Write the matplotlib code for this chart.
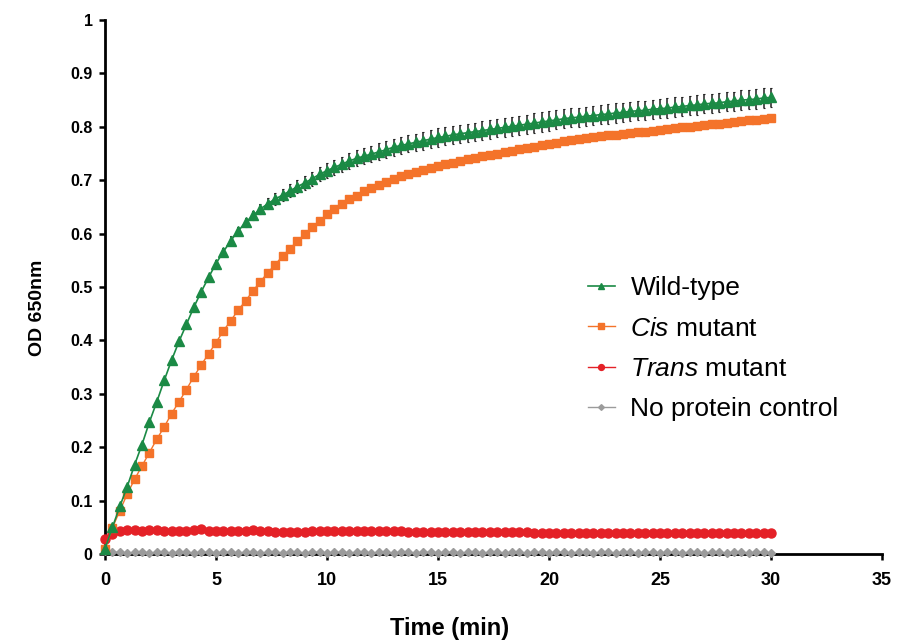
import numpy as np
import matplotlib
matplotlib.use("Agg")
from matplotlib import pyplot as plt
from matplotlib import font_manager

# sampling every 20 s over 30 min
time_min = np.round(np.arange(91) / 3.0, 3)

wild_type = [
    0.010, 0.050, 0.089, 0.126, 0.167, 0.205, 0.247, 0.285, 0.325, 0.363,
    0.398, 0.430, 0.462, 0.491, 0.518, 0.544, 0.566, 0.587, 0.605, 0.621,
    0.634, 0.646, 0.656, 0.665, 0.672, 0.680, 0.688, 0.695, 0.703, 0.711,
    0.718, 0.724, 0.730, 0.736, 0.741, 0.745, 0.749, 0.753, 0.757, 0.762,
    0.765, 0.768, 0.771, 0.774, 0.777, 0.780, 0.782, 0.785, 0.787, 0.789,
    0.791, 0.793, 0.795, 0.797, 0.799, 0.801, 0.803, 0.805, 0.807, 0.809,
    0.811, 0.813, 0.815, 0.817, 0.818, 0.820, 0.821, 0.823, 0.824, 0.826,
    0.827, 0.829, 0.830, 0.831, 0.833, 0.834, 0.835, 0.837, 0.838, 0.840,
    0.841, 0.843, 0.844, 0.845, 0.847, 0.848, 0.850, 0.851, 0.852, 0.854,
    0.855]
wild_type_err = [
    0.001, 0.002, 0.002, 0.003, 0.003, 0.003, 0.004, 0.004, 0.004, 0.005,
    0.005, 0.005, 0.006, 0.006, 0.007, 0.007, 0.007, 0.008, 0.008, 0.009,
    0.009, 0.010, 0.010, 0.011, 0.011, 0.012, 0.012, 0.013, 0.013, 0.013,
    0.014, 0.014, 0.014, 0.015, 0.015, 0.015, 0.015, 0.016, 0.016, 0.016,
    0.016, 0.016, 0.016, 0.017, 0.017, 0.017, 0.017, 0.017, 0.017, 0.017,
    0.017, 0.017, 0.017, 0.017, 0.018, 0.018, 0.018, 0.018, 0.018, 0.018,
    0.018, 0.018, 0.018, 0.018, 0.018, 0.018, 0.018, 0.018, 0.018, 0.018,
    0.018, 0.018, 0.018, 0.018, 0.018, 0.018, 0.018, 0.018, 0.018, 0.018,
    0.018, 0.018, 0.018, 0.018, 0.018, 0.018, 0.018, 0.018, 0.018, 0.018,
    0.018]

cis_mutant = [
    0.010, 0.049, 0.081, 0.112, 0.140, 0.165, 0.190, 0.215, 0.238, 0.263,
    0.285, 0.308, 0.332, 0.354, 0.375, 0.396, 0.418, 0.437, 0.457, 0.474,
    0.493, 0.510, 0.527, 0.542, 0.558, 0.572, 0.586, 0.599, 0.612, 0.624,
    0.636, 0.646, 0.655, 0.664, 0.671, 0.679, 0.685, 0.691, 0.697, 0.702,
    0.707, 0.711, 0.715, 0.719, 0.723, 0.727, 0.730, 0.733, 0.736, 0.739,
    0.742, 0.745, 0.747, 0.750, 0.753, 0.755, 0.758, 0.760, 0.763, 0.765,
    0.768, 0.770, 0.773, 0.775, 0.777, 0.779, 0.781, 0.782, 0.784, 0.785,
    0.787, 0.788, 0.790, 0.791, 0.793, 0.794, 0.796, 0.797, 0.799, 0.800,
    0.802, 0.803, 0.805, 0.806, 0.808, 0.809, 0.810, 0.812, 0.813, 0.815,
    0.816]
cis_mutant_err = [
    0.001, 0.002, 0.002, 0.002, 0.002, 0.002, 0.002, 0.002, 0.002, 0.003,
    0.003, 0.003, 0.003, 0.003, 0.003, 0.003, 0.003, 0.003, 0.003, 0.004,
    0.004, 0.004, 0.004, 0.004, 0.004, 0.004, 0.004, 0.004, 0.004, 0.004,
    0.005, 0.005, 0.005, 0.005, 0.005, 0.005, 0.005, 0.005, 0.005, 0.005,
    0.005, 0.005, 0.005, 0.005, 0.005, 0.005, 0.005, 0.005, 0.005, 0.005,
    0.005, 0.005, 0.005, 0.005, 0.005, 0.005, 0.005, 0.005, 0.005, 0.005,
    0.005, 0.005, 0.005, 0.005, 0.005, 0.005, 0.005, 0.005, 0.005, 0.005,
    0.005, 0.005, 0.005, 0.005, 0.005, 0.005, 0.005, 0.005, 0.005, 0.005,
    0.005, 0.005, 0.005, 0.005, 0.005, 0.005, 0.005, 0.005, 0.005, 0.005,
    0.005]

trans_mutant = [
    0.029, 0.037, 0.044, 0.045, 0.045, 0.044, 0.045, 0.045, 0.044, 0.044,
    0.043, 0.044, 0.045, 0.046, 0.044, 0.043, 0.043, 0.044, 0.044, 0.044,
    0.045, 0.044, 0.043, 0.042, 0.041, 0.042, 0.042, 0.042, 0.043, 0.043,
    0.043, 0.043, 0.043, 0.043, 0.043, 0.044, 0.044, 0.044, 0.044, 0.043,
    0.043, 0.042, 0.042, 0.042, 0.042, 0.042, 0.042, 0.042, 0.041, 0.041,
    0.041, 0.041, 0.041, 0.041, 0.041, 0.041, 0.041, 0.041, 0.040, 0.040,
    0.040, 0.040, 0.040, 0.040, 0.040, 0.040, 0.040, 0.040, 0.040, 0.040,
    0.039, 0.039, 0.039, 0.039, 0.039, 0.039, 0.039, 0.039, 0.039, 0.039,
    0.039, 0.039, 0.039, 0.039, 0.039, 0.039, 0.039, 0.039, 0.039, 0.039,
    0.039]

no_protein = [
    0.006, 0.003, 0.003, 0.002, 0.003, 0.003, 0.002, 0.003, 0.003, 0.002,
    0.003, 0.003, 0.002, 0.003, 0.003, 0.002, 0.003, 0.003, 0.002, 0.003,
    0.003, 0.002, 0.003, 0.003, 0.002, 0.003, 0.003, 0.002, 0.003, 0.003,
    0.002, 0.003, 0.003, 0.002, 0.003, 0.003, 0.002, 0.003, 0.003, 0.002,
    0.003, 0.003, 0.002, 0.003, 0.003, 0.002, 0.003, 0.003, 0.002, 0.003,
    0.003, 0.002, 0.003, 0.003, 0.002, 0.003, 0.003, 0.002, 0.003, 0.003,
    0.002, 0.003, 0.003, 0.002, 0.003, 0.003, 0.002, 0.003, 0.003, 0.002,
    0.003, 0.003, 0.002, 0.003, 0.003, 0.002, 0.003, 0.003, 0.002, 0.003,
    0.003, 0.002, 0.003, 0.003, 0.002, 0.003, 0.003, 0.002, 0.003, 0.003,
    0.002]

x_ticks = [0, 5, 10, 15, 20, 25, 30, 35]
y_ticks = [0, 0.1, 0.2, 0.3, 0.4, 0.5, 0.6, 0.7, 0.8, 0.9, 1]
y_ticklabels = ['0', '0.1', '0.2', '0.3', '0.4', '0.5', '0.6', '0.7', '0.8', '0.9', '1']

names = {f.name for f in font_manager.fontManager.ttflist}
narrow = 'Liberation Sans Narrow' if 'Liberation Sans Narrow' in names else 'Liberation Sans'

plt.rcParams['font.family'] = ['Liberation Sans', 'DejaVu Sans']
plt.rcParams['mathtext.fontset'] = 'custom'
plt.rcParams['mathtext.rm'] = 'Liberation Sans'
plt.rcParams['mathtext.it'] = 'Liberation Sans:italic'

fig = plt.figure(figsize=(8.97, 6.44), dpi=100)
ax = fig.add_axes([105/897, 90/644, 777/897, 534/644])

green = '#1b8a45'
orange = '#f4732a'
red = '#e42127'
grey = '#9b9b9b'

ax.plot(time_min, no_protein, color=grey, lw=1, marker='D', ms=4.5,
        label='No protein control', clip_on=False, zorder=3)
ax.plot(time_min, trans_mutant, color=red, lw=1, marker='o', ms=6.5,
        label='$\\it{Trans}$ mutant', clip_on=False, zorder=4)
ax.errorbar(time_min, cis_mutant, yerr=cis_mutant_err, fmt='none', ecolor='#222222',
            elinewidth=0.9, capsize=0, zorder=4)
ax.plot(time_min, cis_mutant, color=orange, lw=1, marker='s', ms=6,
        label='$\\it{Cis}$ mutant', clip_on=False, zorder=5)
ax.errorbar(time_min, wild_type, yerr=wild_type_err, fmt='none', ecolor='#222222',
            elinewidth=1.1, capsize=0.8, capthick=0.8, zorder=5)
ax.plot(time_min, wild_type, color=green, lw=1.2, marker='^', ms=6.5,
        label='Wild-type', clip_on=False, zorder=6)

ax.set_xlim(0, 35)
ax.set_ylim(0, 1)
ax.set_xticks(x_ticks)
ax.set_xticklabels([str(v) for v in x_ticks], fontfamily=narrow, fontweight='bold', fontsize=13)
ax.set_yticks(y_ticks)
ax.set_yticklabels(y_ticklabels, fontweight='bold', fontsize=11.5)
ax.tick_params(direction='out', length=4, width=1.8)
ax.tick_params(axis='x', pad=9)
ax.tick_params(axis='y', pad=5)

for side in ['top', 'right']:
    ax.spines[side].set_visible(False)
for side in ['left', 'bottom']:
    ax.spines[side].set_linewidth(2)

ax.set_ylabel('OD 650nm', fontsize=14, fontweight='bold', va='center')
ax.yaxis.set_label_coords((37 - 105) / 777, (554 - 308) / 534)
ax.set_xlabel('Time (min)', fontsize=17, fontweight='bold', fontfamily=narrow, va='center')
ax.xaxis.set_label_coords((450 - 105) / 777, (554 - 629) / 534)

handles, labels = ax.get_legend_handles_labels()
order = [3, 2, 1, 0]
leg = ax.legend([handles[i] for i in order], [labels[i] for i in order],
                loc='upper left', bbox_to_anchor=(575/897, 1 - 263/644),
                bbox_transform=fig.transFigure, frameon=False, fontsize=19,
                handlelength=1.0, handletextpad=0.6, labelspacing=0.62,
                markerscale=0.65, borderpad=0)

fig.savefig('out.png', dpi=100)
